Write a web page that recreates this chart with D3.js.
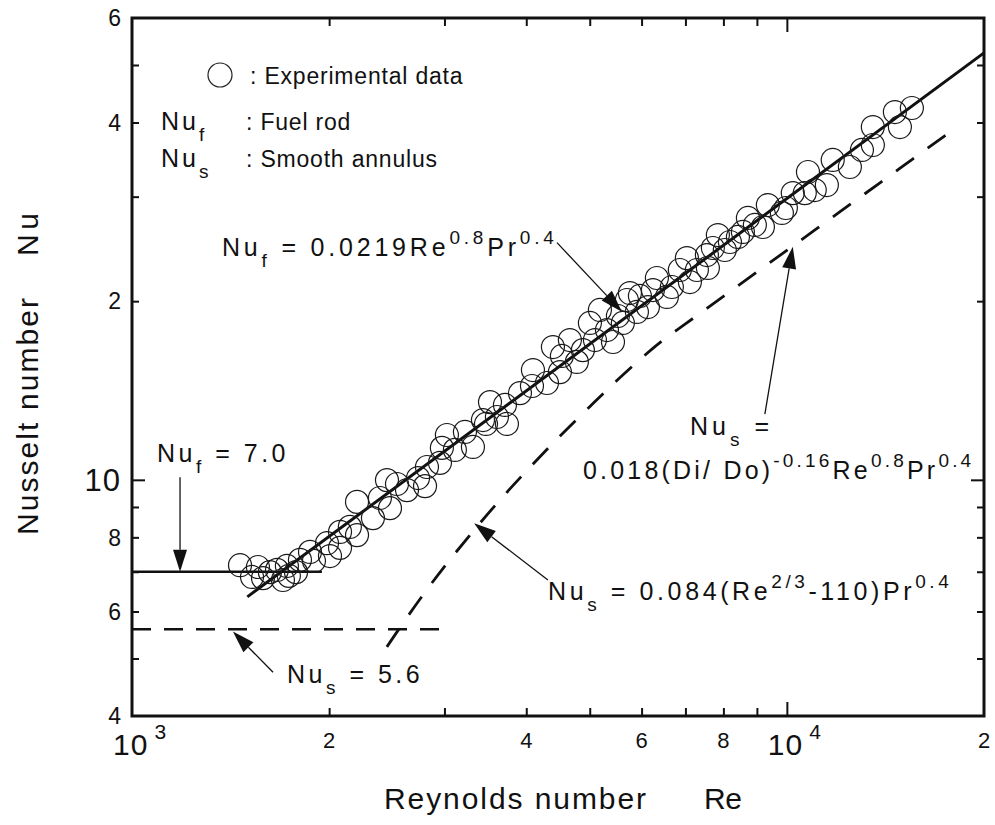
<!DOCTYPE html>
<html>
<head>
<meta charset="utf-8">
<script src="https://cdn.jsdelivr.net/npm/d3@7"></script>
<style>
  body { margin: 0; background: #fff; }
  svg text { font-family: "Liberation Sans", Arial, Helvetica, sans-serif; fill: #111; }
</style>
</head>
<body>
<svg id="chart" width="995" height="825"></svg>
<script>
'use strict';

// experimental points (Re, Nu)
var expRe = [1462, 1525, 1557, 1585, 1624, 1665, 1700, 1724, 1736, 1780, 1805, 1870, 1896, 1985, 2006,
  2078, 2078, 2151, 2206, 2206, 2333, 2391, 2451, 2477, 2539, 2630, 2734, 2802, 2821, 2953,
  2973, 3026, 3112, 3224, 3316, 3435, 3472, 3521, 3608, 3711, 3737, 3912, 4081, 4095, 4302,
  4393, 4502, 4534, 4663, 4779, 4881, 5003, 5092, 5182, 5312, 5426, 5521, 5618, 5698, 5759,
  5902, 5965, 6135, 6244, 6332, 6558, 6674, 6864, 7036, 7111, 7288, 7549, 7575, 7709, 7846,
  8040, 8185, 8419, 8567, 8720, 8936, 9192, 9354, 9826, 9965, 10210, 10650, 10770, 11030, 11510,
  11750, 12480, 13020, 13530, 13530, 14620, 14880, 15520];
var expNu = [7.18, 6.86, 7.13, 6.83, 6.99, 7.05, 6.78, 7.16, 6.89, 6.99, 7.33, 7.56, 7.30, 7.82, 7.44,
  8.17, 7.68, 8.33, 8.07, 9.18, 8.62, 9.32, 9.99, 8.96, 9.84, 9.61, 10.07, 9.76, 10.51, 10.68,
  11.32, 11.90, 11.23, 12.04, 11.36, 12.61, 12.42, 13.52, 12.76, 13.37, 12.42, 14.00, 14.39, 15.31, 14.56,
  16.74, 15.19, 16.17, 17.20, 15.80, 16.54, 18.38, 17.20, 19.33, 17.88, 17.07, 18.88, 18.38, 20.09, 20.64,
  19.18, 20.41, 19.55, 20.88, 21.88, 20.33, 21.13, 22.57, 23.64, 21.54, 22.57, 23.92, 22.75, 24.58, 25.85,
  24.39, 25.16, 25.66, 26.16, 27.62, 26.88, 26.67, 29.04, 28.16, 28.71, 30.42, 30.42, 33.01, 30.78, 31.38,
  34.59, 33.66, 35.96, 36.66, 39.30, 41.66, 39.30, 42.32];

// fuel rod: laminar plateau and turbulent correlation
var fuelFlatRe = [1000, 1950];
var fuelFlatNu = [7.0, 7.0];
var fuelRe = [1500, 20000];
var fuelNu = [6.35, 52.4];

// smooth annulus: laminar plateau and transition / turbulent curve
var smoothFlatRe = [1000, 3000];
var smoothFlatNu = [5.6, 5.6];
var smoothRe = [2450, 2600, 2800, 3000, 3300, 3600, 4000, 4500, 5000, 5500, 6000, 6500, 7000, 8000, 10000, 12000, 15000, 18200];
var smoothNu = [5.23, 5.76, 6.46, 7.14, 8.13, 9.10, 10.34, 11.84, 13.28, 14.70, 16.04, 17.26, 18.31, 20.38, 24.36, 28.19, 33.70, 39.34];

// ticks
var xMinorTicks = [2000, 3000, 4000, 5000, 6000, 7000, 8000, 9000];
var xMajorTicks = [10000];
var xTickText = [[1000, '10', '3'], [2000, '2'], [4000, '4'], [6000, '6'], [8000, '8'], [10000, '10', '4'], [20000, '2']];
var yMinorTicks = [5, 6, 7, 8, 9, 20, 30, 40, 50];
var yMajorTicks = [10];
var yTickText = [[60, '6'], [40, '4'], [20, '2'], [10, '10'], [8, '8'], [6, '6'], [4, '4']];

var W = 995, H = 825;
var margin = { top: 18, right: 11, bottom: 109, left: 132 };
var svg = d3.select('#chart');

var x = d3.scaleLog().domain([1000, 20000]).range([margin.left, W - margin.right]);
var y = d3.scaleLog().domain([4, 60]).range([H - margin.bottom, margin.top]);
var plotL = x.range()[0], plotR = x.range()[1], plotT = y.range()[1], plotB = y.range()[0];

// inward ticks on all four sides
function ticks(axis, tx, ty) {
  var g = svg.append('g').attr('transform', 'translate(' + tx + ',' + ty + ')').call(axis);
  g.select('.domain').remove();
  g.selectAll('text').remove();
  g.selectAll('line').attr('stroke', '#111').attr('stroke-width', 2);
}
ticks(d3.axisBottom(x).tickValues(xMinorTicks).tickSize(-8).tickFormat(''), 0, plotB);
ticks(d3.axisBottom(x).tickValues(xMajorTicks).tickSize(-14).tickFormat(''), 0, plotB);
ticks(d3.axisTop(x).tickValues(xMinorTicks).tickSize(-8).tickFormat(''), 0, plotT);
ticks(d3.axisTop(x).tickValues(xMajorTicks).tickSize(-14).tickFormat(''), 0, plotT);
ticks(d3.axisLeft(y).tickValues(yMinorTicks).tickSize(-7).tickFormat(''), plotL, 0);
ticks(d3.axisLeft(y).tickValues(yMajorTicks).tickSize(-13).tickFormat(''), plotL, 0);
ticks(d3.axisRight(y).tickValues(yMinorTicks).tickSize(-7).tickFormat(''), plotR, 0);
ticks(d3.axisRight(y).tickValues(yMajorTicks).tickSize(-13).tickFormat(''), plotR, 0);

svg.append('rect')
  .attr('x', plotL).attr('y', plotT)
  .attr('width', plotR - plotL).attr('height', plotB - plotT)
  .attr('fill', 'none').attr('stroke', '#111').attr('stroke-width', 3);

// tick labels
xTickText.forEach(function (d) {
  var t = svg.append('text').attr('x', x(d[0])).attr('y', plotB + 39);
  if (d[2]) {
    t.attr('text-anchor', 'start').attr('dx', -19).style('font-size', '30px').style('letter-spacing', '1px').text(d[1]);
    t.append('tspan').attr('dy', -16).attr('dx', 6).style('font-size', '21px').text(d[2]);
  } else {
    t.attr('text-anchor', 'middle').attr('y', plotB + 32).style('font-size', '22px').text(d[1]);
  }
});
yTickText.forEach(function (d) {
  svg.append('text')
    .attr('x', plotL - 11).attr('y', y(d[0])).attr('dy', '0.36em')
    .attr('text-anchor', 'end')
    .style('font-size', d[1] === '10' ? '31px' : '23px')
    .style('letter-spacing', d[1] === '10' ? '1px' : '0px')
    .text(d[1]);
});

// axis titles
svg.append('text').attr('x', 384).attr('y', 809).style('font-size', '30px')
  .attr('textLength', 262).attr('lengthAdjust', 'spacing').text('Reynolds number');
svg.append('text').attr('x', 704).attr('y', 809).style('font-size', '30px')
  .attr('textLength', 38).attr('lengthAdjust', 'spacing').text('Re');
var yt = svg.append('g').attr('transform', 'translate(38,374) rotate(-90)');
yt.append('text').attr('x', -161).attr('y', 0).style('font-size', '30px')
  .attr('textLength', 237).attr('lengthAdjust', 'spacing').text('Nusselt number');
yt.append('text').attr('x', 118).attr('y', 0).style('font-size', '30px')
  .attr('textLength', 43).attr('lengthAdjust', 'spacing').text('Nu');

// correlation lines
var line = d3.line().x(function (d) { return x(d[0]); }).y(function (d) { return y(d[1]); });
function pairs(a, b) { return a.map(function (v, i) { return [v, b[i]]; }); }

svg.append('path').datum(pairs(fuelFlatRe, fuelFlatNu)).attr('d', line)
  .attr('fill', 'none').attr('stroke', '#111').attr('stroke-width', 2.6);
svg.append('path').datum(pairs(fuelRe, fuelNu)).attr('d', line)
  .attr('fill', 'none').attr('stroke', '#111').attr('stroke-width', 3);
svg.append('path').datum(pairs(smoothFlatRe, smoothFlatNu)).attr('d', line)
  .attr('fill', 'none').attr('stroke', '#111').attr('stroke-width', 2.4).attr('stroke-dasharray', '19,13');
svg.append('path').datum(pairs(smoothRe, smoothNu)).attr('d', line.curve(d3.curveMonotoneX))
  .attr('fill', 'none').attr('stroke', '#111').attr('stroke-width', 2.8).attr('stroke-dasharray', '22,17');

// experimental points
svg.append('g').selectAll('circle')
  .data(pairs(expRe, expNu))
  .enter().append('circle')
  .attr('cx', function (d) { return x(d[0]); })
  .attr('cy', function (d) { return y(d[1]); })
  .attr('r', 11.5)
  .attr('fill', 'none').attr('stroke', '#1a1a1a').attr('stroke-width', 1.2);

// arrows pointing at the curves (data coordinates)
var arrows = [
  { from: [1184, 10.1], to: [1184, 7.0] },
  { from: [4456, 25.1], to: [5598, 19.2] },
  { from: [1642, 4.74], to: [1426, 5.55] },
  { from: [4316, 6.78], to: [3330, 8.45] },
  { from: [9256, 12.9], to: [10210, 24.7] }
];
arrows.forEach(function (a) {
  var x0 = x(a.from[0]), y0 = y(a.from[1]), x1 = x(a.to[0]), y1 = y(a.to[1]);
  var ang = Math.atan2(y1 - y0, x1 - x0), len = 22, half = 7;
  var bx = x1 - len * Math.cos(ang), by = y1 - len * Math.sin(ang);
  svg.append('line').attr('x1', x0).attr('y1', y0).attr('x2', bx).attr('y2', by)
    .attr('stroke', '#111').attr('stroke-width', 1.3);
  svg.append('path')
    .attr('d', 'M' + x1 + ',' + y1 +
      'L' + (bx + half * Math.sin(ang)) + ',' + (by - half * Math.cos(ang)) +
      'L' + (bx - half * Math.sin(ang)) + ',' + (by + half * Math.cos(ang)) + 'Z')
    .attr('fill', '#111');
});

// text with sub/superscripts: parts are [string, 'sub'|'sup'|undefined]
function richText(px, py, parts, size, spacing) {
  var t = svg.append('text').attr('x', px).attr('y', py)
    .style('font-size', size + 'px').style('letter-spacing', spacing + 'px');
  var shift = 0;
  parts.forEach(function (p) {
    var target = 0, fs = size;
    if (p[1] === 'sub') { target = size * 0.44; fs = size * 0.76; }
    if (p[1] === 'sup') { target = -size * 0.5; fs = size * 0.76; }
    t.append('tspan').attr('dy', target - shift).style('font-size', fs + 'px').text(p[0]);
    shift = target;
  });
  return t;
}

// legend
svg.append('circle').attr('cx', 220).attr('cy', 75).attr('r', 12)
  .attr('fill', 'none').attr('stroke', '#222').attr('stroke-width', 1.2);
richText(250, 84, [[': Experimental data']], 23, 0.8);
richText(161, 130, [['Nu'], ['f', 'sub']], 25, 3);
richText(246, 130, [[': Fuel rod']], 23, 0.8);
richText(161, 167, [['Nu'], ['s', 'sub']], 25, 3);
richText(246, 167, [[': Smooth annulus']], 23, 0.8);

// equation labels
richText(222, 256, [['Nu'], ['f', 'sub'], [' = 0.0219Re'], ['0.8', 'sup'], ['Pr'], ['0.4', 'sup']], 25, 3.8);
richText(157, 462, [['Nu'], ['f', 'sub'], [' = 7.0']], 25, 3.5);
richText(287, 683, [['Nu'], ['s', 'sub'], [' = 5.6']], 25, 3.5);
richText(548, 600, [['Nu'], ['s', 'sub'], [' = 0.084(Re'], ['2/3', 'sup'], ['-110)Pr'], ['0.4', 'sup']], 25, 3.6);
richText(690, 435, [['Nu'], ['s', 'sub'], ['  =']], 25, 4);
richText(583, 479, [['0.018(Di/ Do)'], ['-0.16', 'sup'], ['Re'], ['0.8', 'sup'], ['Pr'], ['0.4', 'sup']], 25, 3.2);
</script>
</body>
</html>
